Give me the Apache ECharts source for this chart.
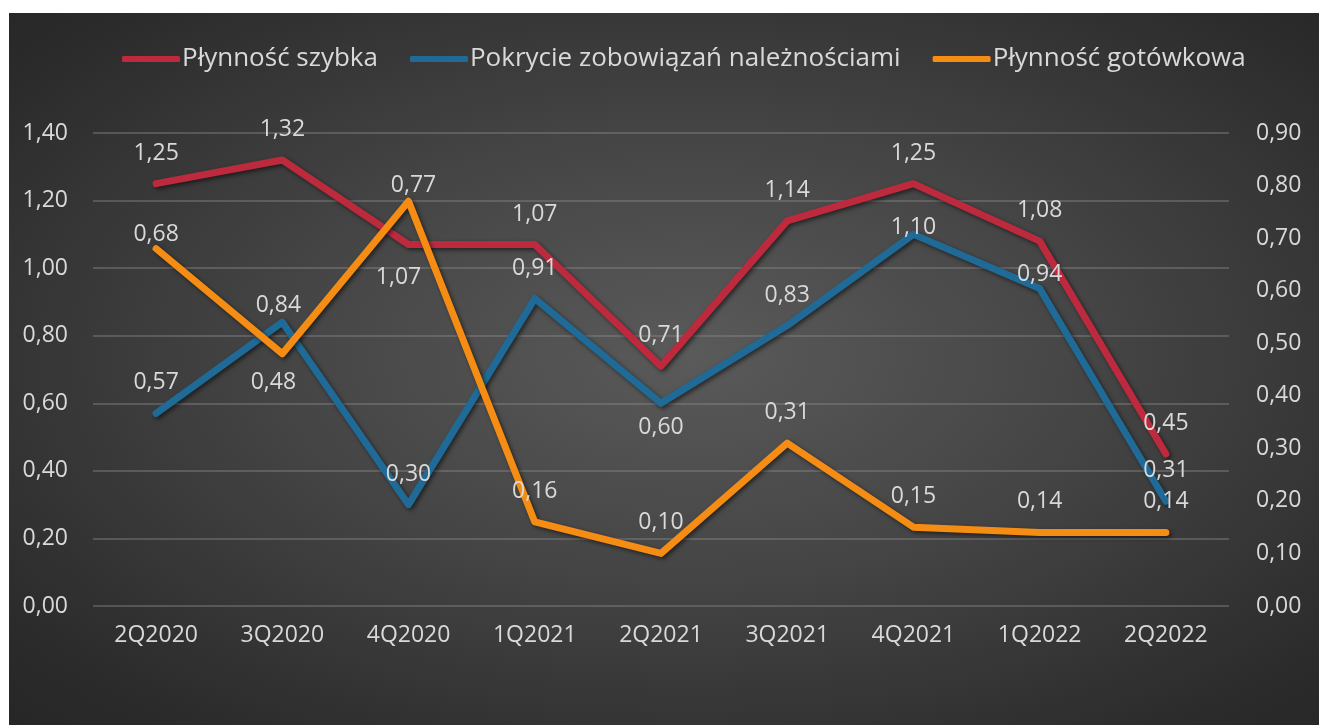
<!DOCTYPE html>
<html>
<head>
<meta charset="utf-8">
<script src="https://cdn.jsdelivr.net/npm/echarts@6/dist/echarts.min.js"></script>
<style>
    html, body { margin: 0; padding: 0; background: #fff; }
    #chart {
        position: absolute;
        left: 9px;
        top: 13px;
        width: 1310px;
        height: 712px;
        background: radial-gradient(ellipse at 52% 48%, #5a5a5a 0%, #464646 40%, #2c2c2c 85%, #262626 100%);
    }
</style>
</head>
<body>
<div id="chart"></div>
<script>
const categories = ['2Q2020', '3Q2020', '4Q2020', '1Q2021', '2Q2021', '3Q2021', '4Q2021', '1Q2022', '2Q2022'];
const plynnoscSzybka = [1.25, 1.32, 1.07, 1.07, 0.71, 1.14, 1.25, 1.08, 0.45];
const pokrycieZobowiazan = [0.57, 0.84, 0.30, 0.91, 0.60, 0.83, 1.10, 0.94, 0.31];
const plynnoscGotowkowa = [0.68, 0.48, 0.77, 0.16, 0.10, 0.31, 0.15, 0.14, 0.14];
const leftTicks = { min: 0, max: 1.4, interval: 0.2 };
const rightTicks = { min: 0, max: 0.9, interval: 0.1 };

// label nudges (Excel labels were dragged around a bit)
const redNudge = { 2: [-10, 63] };
const blueNudge = { 1: [-4, 14], 4: [0, 55], 6: [0, 24], 7: [0, 17] };
const orangeNudge = { 0: [0, 16], 1: [-9, 59], 2: [5, 15] };

const txt = '#d9d9d9';
const font = '"Open Sans", sans-serif';

function withLabels(values, nudge) {
    return values.map((v, i) => {
        const item = { value: v };
        if (nudge[i]) item.label = { offset: nudge[i] };
        return item;
    });
}

function lineSeries(name, values, color, axisIdx, nudge) {
    return {
        name: name,
        type: 'line',
        yAxisIndex: axisIdx,
        data: withLabels(values, nudge),
        showSymbol: true,
        symbol: 'circle',
        symbolSize: 2,
        lineStyle: {
            width: 7,
            color: color,
            cap: 'round',
            join: 'round',
            shadowColor: 'rgba(0,0,0,0.55)',
            shadowBlur: 4,
            shadowOffsetX: 2,
            shadowOffsetY: 2
        },
        itemStyle: { color: color },
        label: {
            show: true,
            position: 'top',
            distance: 18,
            color: txt,
            fontFamily: font,
            fontSize: 23,
            formatter: p => p.value.toFixed(2).replace('.', ',')
        },
        emphasis: { disabled: true }
    };
}

const chart = echarts.init(document.getElementById('chart'));
chart.setOption({
    animation: false,
    backgroundColor: 'transparent',
    legend: {
        top: 28,
        left: 108,
        itemWidth: 58,
        itemHeight: 6,
        itemGap: 32,
        icon: 'roundRect',
        textStyle: { color: txt, fontFamily: font, fontSize: 26, padding: [0, 0, 0, -3] },
        data: ['Płynność szybka', 'Pokrycie zobowiązań należnościami', 'Płynność gotówkowa']
    },
    grid: { left: 84, right: 90, top: 120, bottom: 119, containLabel: false },
    xAxis: {
        type: 'category',
        data: categories,
        boundaryGap: true,
        axisLine: { show: false },
        axisTick: { show: false },
        axisLabel: { color: txt, fontFamily: font, fontSize: 23, margin: 18 }
    },
    yAxis: [
        {
            type: 'value',
            min: leftTicks.min, max: leftTicks.max, interval: leftTicks.interval,
            axisLabel: {
                color: txt, fontFamily: font, fontSize: 23, margin: 25,
                formatter: v => v.toFixed(2).replace('.', ',')
            },
            splitLine: { lineStyle: { color: 'rgba(140,140,140,0.55)', width: 1.5 } },
            axisLine: { show: false },
            axisTick: { show: false }
        },
        {
            type: 'value',
            min: rightTicks.min, max: rightTicks.max, interval: rightTicks.interval,
            axisLabel: {
                color: txt, fontFamily: font, fontSize: 23, margin: 27,
                formatter: v => v.toFixed(2).replace('.', ',')
            },
            splitLine: { show: false },
            axisLine: { show: false },
            axisTick: { show: false }
        }
    ],
    series: [
        lineSeries('Płynność szybka', plynnoscSzybka, '#bd2a3e', 0, redNudge),
        lineSeries('Pokrycie zobowiązań należnościami', pokrycieZobowiazan, '#1f6a96', 0, blueNudge),
        lineSeries('Płynność gotówkowa', plynnoscGotowkowa, '#f58c14', 1, orangeNudge)
    ]
});
</script>
</body>
</html>
